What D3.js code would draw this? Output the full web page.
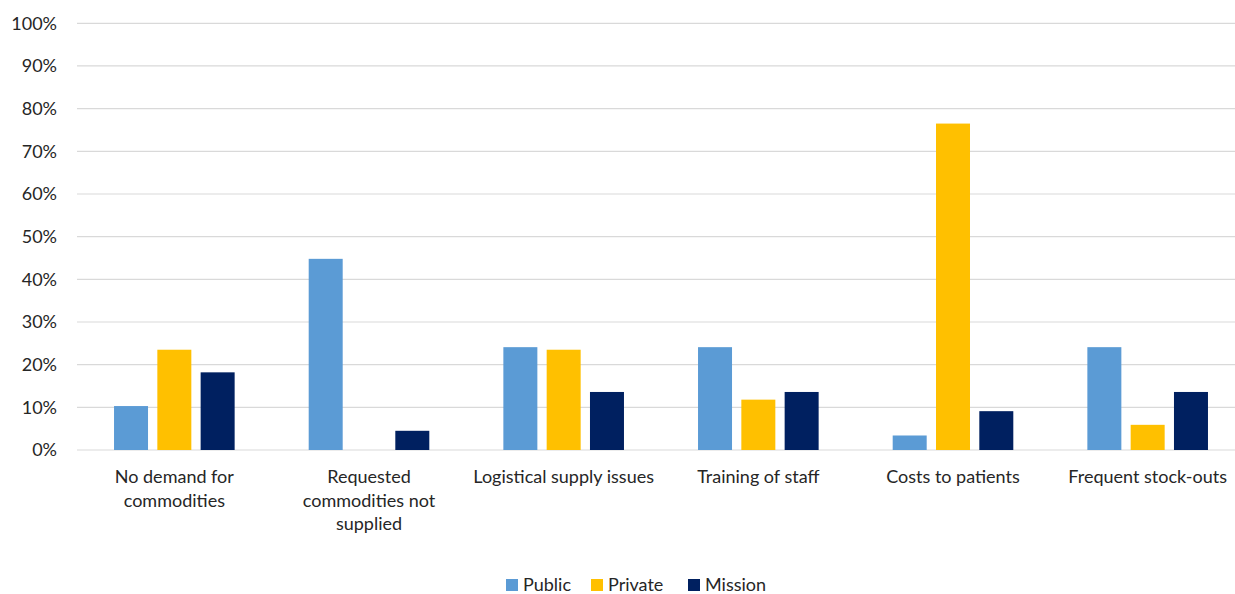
<!DOCTYPE html>
<html>
<head>
<meta charset="utf-8">
<script src="https://cdn.jsdelivr.net/npm/d3@7"></script>
<style>
  body { margin: 0; background: #fff; overflow: hidden; }
  text { font-family: Lato, "Open Sans", sans-serif; fill: #262626; }
</style>
</head>
<body>
<svg width="1235" height="594"></svg>
<script>
// categories, each split in lines as shown under the axis
const categories = [
  ["No demand for", "commodities"],
  ["Requested", "commodities not", "supplied"],
  ["Logistical supply issues"],
  ["Training of staff"],
  ["Costs to patients"],
  ["Frequent stock-outs"]
];
const seriesNames = ["Public", "Private", "Mission"];
const seriesColors = ["#5B9BD5", "#FFC000", "#002060"];

const publicVals  = [10.3, 44.8, 24.1, 24.1, 3.4, 24.1];
const privateVals = [23.5, 0, 23.5, 11.8, 76.5, 5.9];
const missionVals = [18.2, 4.5, 13.6, 13.6, 9.1, 13.6];

const yTicks = [0, 10, 20, 30, 40, 50, 60, 70, 80, 90, 100];

const allVals = [publicVals, privateVals, missionVals];

const svg = d3.select('svg');

// the plot runs a little past the right edge of the picture
const plotLeft = 77, plotRight = 1245, plotTop = 23.3, plotBottom = 450;

const x = d3.scaleBand()
    .domain(d3.range(categories.length))
    .range([plotLeft, plotRight]);

const xInner = d3.scaleBand()
    .domain(seriesNames)
    .range([0, x.bandwidth()])
    .paddingInner(0.215)
    .paddingOuter(0.855);

const y = d3.scaleLinear()
    .domain([0, 100])
    .range([plotBottom, plotTop]);

// gridlines
svg.append('g')
    .selectAll('line')
    .data(yTicks)
    .enter()
    .append('line')
    .attr('x1', plotLeft)
    .attr('x2', plotRight)
    .attr('y1', (d)=> y(d))
    .attr('y2', (d)=> y(d))
    .style('stroke', '#d9d9d9')
    .style('stroke-width', 1.2);

// y axis labels
const yAxis = d3.axisLeft(y)
    .tickValues(yTicks)
    .tickSize(0)
    .tickPadding(20)
    .tickFormat((d)=> d + '%');

svg.append('g')
    .attr('transform', `translate(${plotLeft},0)`)
    .call(yAxis)
    .call((g)=> g.select('.domain').remove())
    .call((g)=> g.selectAll('text')
        .style('font-family', 'Lato, "Open Sans", sans-serif')
        .style('font-size', '18px')
        .style('fill', '#262626'));

// bars
seriesNames.forEach((name, si)=> {
    svg.append('g')
        .selectAll('rect')
        .data(allVals[si])
        .enter()
        .append('rect')
        .attr('x', (d, i)=> x(i) + xInner(name))
        .attr('width', xInner.bandwidth())
        .attr('y', (d)=> y(d))
        .attr('height', (d)=> plotBottom - y(d))
        .style('fill', seriesColors[si]);
});

// category labels
const catG = svg.append('g');
categories.forEach((lines, i)=> {
    const t = catG.append('text')
        .attr('x', x(i) + x.bandwidth() / 2)
        .attr('y', 483)
        .attr('text-anchor', 'middle')
        .style('font-size', '18px');
    lines.forEach((ln, k)=> {
        t.append('tspan')
            .attr('x', x(i) + x.bandwidth() / 2)
            .attr('dy', k === 0 ? 0 : 23.5)
            .text(ln);
    });
});

// legend
const legendX = [506, 591, 688];
const legend = svg.append('g');
seriesNames.forEach((name, si)=> {
    legend.append('rect')
        .attr('x', legendX[si])
        .attr('y', 579)
        .attr('width', 12)
        .attr('height', 12)
        .style('fill', seriesColors[si]);
    legend.append('text')
        .attr('x', legendX[si] + 17)
        .attr('y', 591)
        .style('font-size', '18px')
        .text(name);
});
</script>
</body>
</html>
